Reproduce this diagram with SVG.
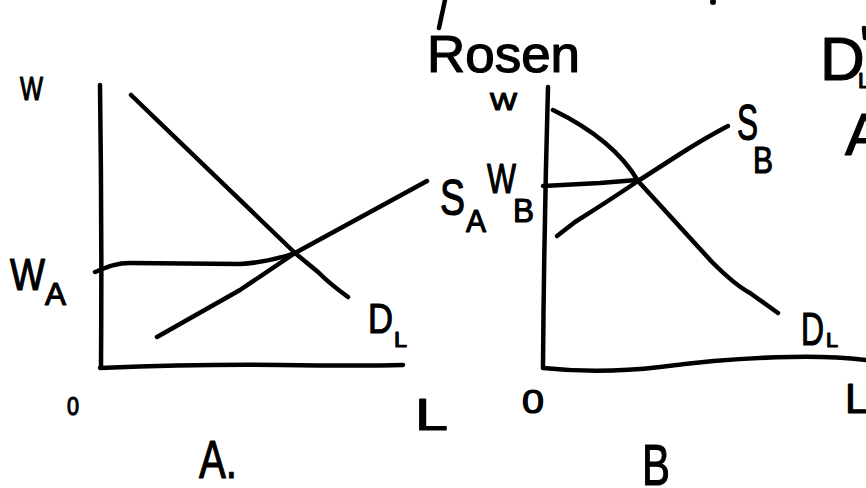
<svg xmlns="http://www.w3.org/2000/svg" width="866" height="488" viewBox="0 0 866 488">
<style>
.s{fill:none;stroke:#000;stroke-width:4.5;stroke-linecap:round;stroke-linejoin:round}
text{font-family:"Liberation Sans","DejaVu Sans",sans-serif;fill:#000;stroke:#000;stroke-width:1.2;stroke-linejoin:round}
</style>
<rect width="866" height="488" fill="#fff"/>
<g id="title">
<path class="s" d="M445,0 L439,28"/>
<circle cx="713" cy="2" r="3" fill="#000"/>
<text x="427" y="72" font-size="52" textLength="153" lengthAdjust="spacingAndGlyphs">Rosen</text>
</g>
<g id="edge-labels">
<text x="820" y="80" font-size="62">D</text>
<text x="858" y="88" font-size="22">L</text>
<path class="s" d="M864,28 L865,38"/>
<text x="845" y="155" font-size="60">A</text>
</g>
<g id="panel-a">
<g id="axes-a">
<path class="s" d="M100,85 Q102,230 101,367"/>
<path class="s" d="M100,368 Q200,364 280,365 T403,365"/>
</g>
<g id="curves-a">
<path class="s" d="M131,95 L295,253 L318,272 Q330,284 348,297"/>
<path class="s" d="M157,337 L240,290 Q270,270 295,253 L427,181"/>
<path class="s" d="M95,272 C105,268 115,263 130,263 L240,264 Q270,262 295,253"/>
</g>
<text x="20" y="100" font-size="34" textLength="23" lengthAdjust="spacingAndGlyphs">W</text>
<text x="10" y="290" font-size="44" textLength="35" lengthAdjust="spacingAndGlyphs">W</text>
<text x="45" y="305" font-size="32" textLength="21" lengthAdjust="spacingAndGlyphs">A</text>
<text x="440" y="215" font-size="50" textLength="25" lengthAdjust="spacingAndGlyphs">S</text>
<text x="466" y="232" font-size="32" textLength="20" lengthAdjust="spacingAndGlyphs">A</text>
<text x="368" y="333" font-size="42" textLength="25" lengthAdjust="spacingAndGlyphs">D</text>
<text x="394" y="347" font-size="22" textLength="13" lengthAdjust="spacingAndGlyphs">L</text>
<text x="67" y="415" font-size="26" textLength="12" lengthAdjust="spacingAndGlyphs">0</text>
<text x="415" y="430" font-size="44" textLength="33" lengthAdjust="spacingAndGlyphs">L</text>
<text x="199" y="478" font-size="54" textLength="38" lengthAdjust="spacingAndGlyphs">A.</text>
</g>
<g id="panel-b">
<g id="axes-b">
<path class="s" d="M548,87 Q544,230 543,367"/>
<path class="s" d="M543,368 Q600,374 660,367 Q730,358 790,357 Q830,356 866,360"/>
</g>
<g id="curves-b">
<path class="s" d="M553,110 C590,128 620,150 638,181 L712,262 Q735,285 750,293 L778,313"/>
<path class="s" d="M557,236 L575,222 Q610,200 638,181 L680,154 Q705,138 728,126"/>
<path class="s" d="M543,186 L600,183 L637,180"/>
</g>
<text x="490" y="110" font-size="24" textLength="27" lengthAdjust="spacingAndGlyphs">W</text>
<text x="487" y="193" font-size="42" textLength="29" lengthAdjust="spacingAndGlyphs">W</text>
<text x="513" y="222" font-size="34" textLength="21" lengthAdjust="spacingAndGlyphs">B</text>
<text x="737" y="140" font-size="50" textLength="21" lengthAdjust="spacingAndGlyphs">S</text>
<text x="753" y="173" font-size="36" textLength="20" lengthAdjust="spacingAndGlyphs">B</text>
<text x="801" y="345" font-size="46" textLength="23" lengthAdjust="spacingAndGlyphs">D</text>
<text x="826" y="347" font-size="20" textLength="12" lengthAdjust="spacingAndGlyphs">L</text>
<text x="522" y="413" font-size="34" textLength="22" lengthAdjust="spacingAndGlyphs">0</text>
<text x="845" y="413" font-size="42">L</text>
<text x="642" y="485" font-size="58" textLength="28" lengthAdjust="spacingAndGlyphs">B</text>
</g>
</svg>
